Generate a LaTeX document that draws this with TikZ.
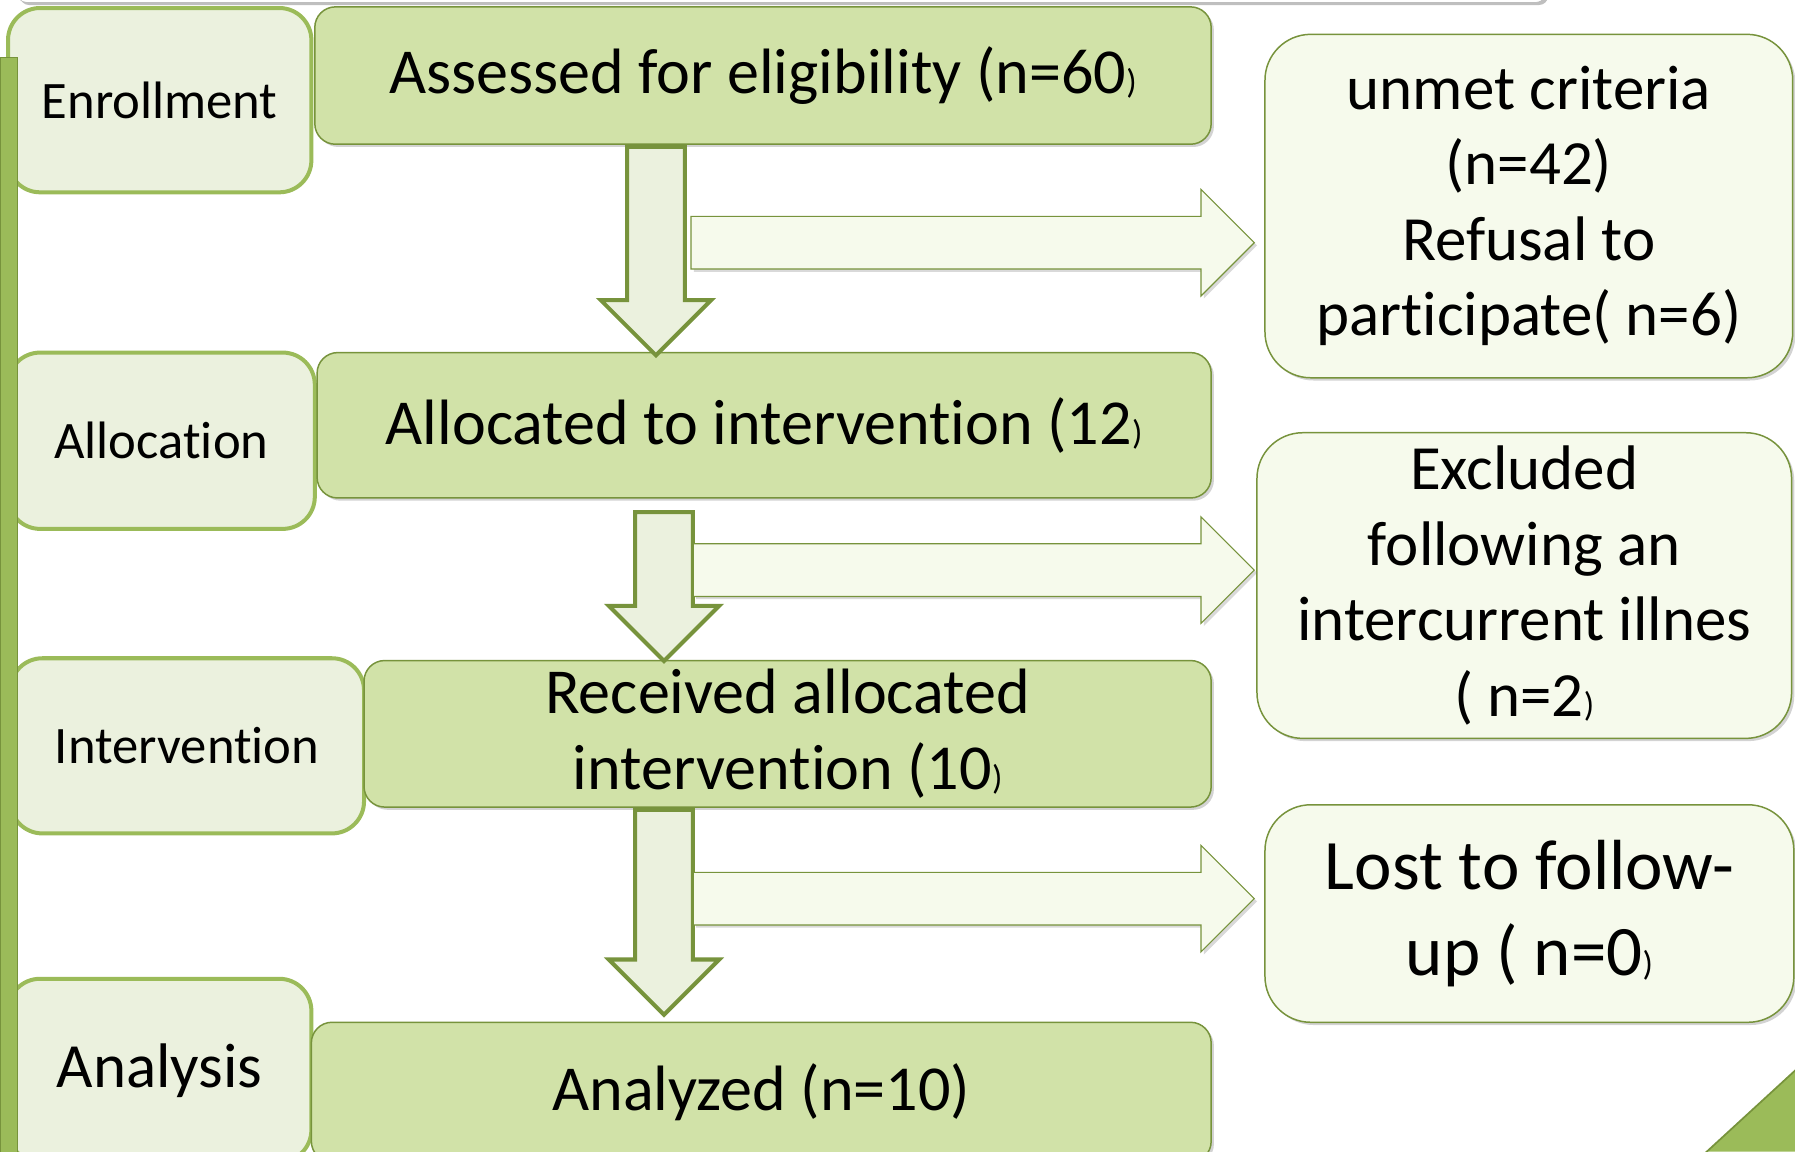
\documentclass[tikz,border=0pt]{standalone}
\usepackage{fontspec}
\setmainfont{Carlito}[Ligatures={NoCommon,NoContextual},RawFeature={-liga;-clig;-calt;-dlig}]
\usepackage{tikz}
\usetikzlibrary{positioning,calc,shapes.arrows,shadows}
\definecolor{stageline}{RGB}{155,187,89}
\definecolor{stagefill}{RGB}{235,241,222}
\definecolor{boxline}{RGB}{119,147,60}
\definecolor{mainfill}{RGB}{209,226,168}
\definecolor{sidefill}{RGB}{246,250,236}
\newcommand{\cparen}{{\fontsize{30}{30}\selectfont)}}

\begin{document}
\begin{tikzpicture}[
  x=1pt, y=-1pt,
  stage/.style={draw=stageline, line width=3.5pt, fill=stagefill, rounded corners=28pt, inner sep=0pt, font=\fontsize{46}{55}\selectfont},
  mainbox/.style={draw=boxline, line width=1.3pt, fill=mainfill, rounded corners=18pt, drop shadow={opacity=0.35}, inner sep=0pt, align=center, font=\fontsize{56}{67}\selectfont},
  sidebox/.style={draw=boxline, line width=1.3pt, fill=sidefill, rounded corners=40pt, drop shadow={opacity=0.35}, inner sep=0pt, align=center, font=\fontsize{55}{66}\selectfont},
  dnarrow/.style={single arrow, draw=boxline, line width=3.5pt, fill=stagefill, rotate=-90, anchor=tail, inner xsep=0pt, inner ysep=23.5pt, single arrow head extend=23pt},
  sidearrow/.style={single arrow, draw=boxline, line width=1pt, fill=sidefill, anchor=tip, inner xsep=0pt, inner ysep=22.5pt, single arrow head extend=23.5pt, drop shadow={opacity=0.3}}
]
\useasboundingbox (0,0) rectangle (1568,1006);

% box cut off at the top edge
\draw[draw=black!30, fill=white, drop shadow={opacity=0.5}, rounded corners=8pt] (15,-40) rectangle (1350,2);

% stages
\node[stage, minimum width=265pt, minimum height=161pt] (enrol) at (139.5,87.5) {Enrollment};
\node[stage, minimum width=268pt, minimum height=154pt] (alloc) at (141,385) {Allocation};
\node[stage, minimum width=309pt, minimum height=153pt] (interv) at (163.5,651.5) {Intervention};
\node[stage, minimum width=265pt, minimum height=160pt, font=\fontsize{55}{66}\selectfont] (analy) at (139.5,935) {Analysis};
\filldraw[fill=stageline, draw=boxline, line width=1pt] (0,50) rectangle (15,1020);

% flow
\node[mainbox, minimum width=783pt, minimum height=120pt] (assess) at (666.5,66) {Assessed for eligibility (n=60\cparen};
\node[mainbox, minimum width=781pt, minimum height=127pt] (allocd) at (667.5,371.5) {Allocated to intervention (12\cparen};
\node[mainbox, minimum width=740pt, minimum height=128pt] (recvd) at (688,641) {Received allocated\\intervention (10\cparen};
\node[mainbox, minimum width=786pt, minimum height=122pt] (analyzd) at (665,954) {Analyzed (n=10)};

% exclusions
\node[sidebox, minimum width=461pt, minimum height=300pt] (unmet) at (1335.5,180) {unmet criteria\\(n=42)\\Refusal to\\participate( n=6)};
\node[sidebox, minimum width=467pt, minimum height=267pt] (excl) at (1331.5,511.5) {Excluded\\following an\\intercurrent illnes\\( n=2\cparen};
\node[sidebox, minimum width=462pt, minimum height=190pt, font=\fontsize{62}{75}\selectfont] (lost) at (1336,798) {Lost to follow-\\up ( n=0\cparen};

% arrows
\coordinate (c1) at (573,0);
\coordinate (c2) at (580,0);
\coordinate (r1) at (0,212);
\coordinate (r2) at (0,498);
\coordinate (r3) at (0,785);
\node[dnarrow, minimum height=182pt] (d1) at (assess.south -| c1) {};
\node[dnarrow, minimum height=130pt] (d2) at ($(allocd.south -| c2)+(0,10)$) {};
\node[dnarrow, minimum height=179pt] (d3) at (recvd.south -| c2) {};
\node[sidearrow, minimum height=492pt] (s1) at ($(unmet.west |- r1)+(-8,0)$) {};
\node[sidearrow, minimum height=490pt] (s2) at ($(excl.west |- r2)+(-1,0)$) {};
\node[sidearrow, minimum height=490pt] (s3) at ($(lost.west |- r3)+(-8,0)$) {};

% corner
\fill[stageline] (1491,1006) -- (1568,935) -- (1568,1006) -- cycle;
\draw[boxline, line width=1.5pt] (1480,1016) -- (1578,926);
\end{tikzpicture}
\end{document}
